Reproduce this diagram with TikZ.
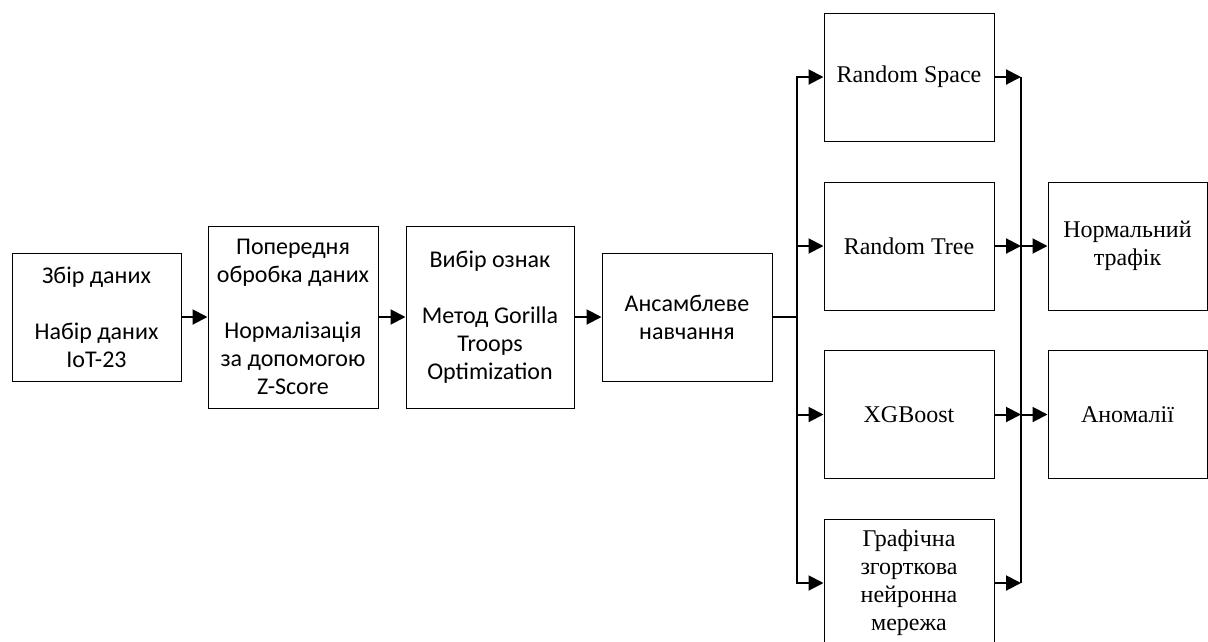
\documentclass[tikz,border=0pt]{standalone}
\usepackage{fontspec}
\setmainfont{Liberation Serif}
\newfontfamily\boxsans{Carlito}
\usetikzlibrary{arrows.meta}
\begin{document}
\begin{tikzpicture}[x=1pt,y=-1pt,
  box/.style={draw=black,line width=1pt,rectangle,inner sep=0pt,align=center,
    font=\boxsans\fontsize{24}{28}\selectfont},
  sbox/.style={box,font=\fontsize{24}{28}\selectfont},
  conn/.style={line width=2pt,draw=black},
  arr/.style={conn,-{Triangle[length=15pt,width=15pt]}}]
\useasboundingbox (0,0) rectangle (1208,641);

% pipeline stages
\node[box,minimum width=169pt,minimum height=128pt] (collect) at (96.5,317)
  {Збір даних\\[28pt]Набір даних\\IoT-23};
\node[box,minimum width=170pt,minimum height=182pt] (prep) at (293,317)
  {Попередня\\обробка даних\\[28pt]Нормалізація\\за допомогою\\Z-Score};
\node[box,minimum width=168pt,minimum height=182pt] (select) at (490,317)
  {Вибір ознак\\[28pt]Метод Gorilla\\Troops\\Optimization};
\node[box,minimum width=170pt,minimum height=128pt] (ens) at (687,317)
  {Ансамблеве\\навчання};

% ensemble members
\node[sbox,minimum width=170pt,minimum height=128pt] (rs) at (909,77) {Random Space};
\node[sbox,minimum width=170pt,minimum height=128pt] (rt) at (909,246) {Random Tree};
\node[sbox,minimum width=170pt,minimum height=128pt] (xgb) at (909,414.5) {XGBoost};
\node[sbox,minimum width=170pt,minimum height=128pt] (gnn) at (909,583)
  {Графічна\\згорткова\\нейронна\\мережа};

% outcomes
\node[sbox,minimum width=159pt,minimum height=128pt] (normal) at (1127.5,246)
  {Нормальний\\трафік};
\node[sbox,minimum width=159pt,minimum height=128pt] (anom) at (1127.5,414.5)
  {Аномалії};

% bus positions
\coordinate (busL) at (797,317);
\coordinate (busR) at (1021,317);

% pipeline arrows
\draw[arr] (collect.east) -- (prep.west);
\draw[arr] (prep.east) -- (select.west);
\draw[arr] (select.east) -- (ens.west);
\draw[conn] (ens.east) -- (busL);

% fan-out to members
\foreach \m in {rs,rt,xgb,gnn}
  \draw[arr] (busL) |- (\m.west);

% fan-in from members
\foreach \m in {rs,rt,xgb,gnn}
  \draw[arr] (\m.east) -- (\m.east -| busR);
\draw[conn] (rs.east -| busR) -- (gnn.east -| busR);

% outputs
\draw[arr] (normal.west -| busR) -- (normal.west);
\draw[arr] (anom.west -| busR) -- (anom.west);
\end{tikzpicture}
\end{document}
